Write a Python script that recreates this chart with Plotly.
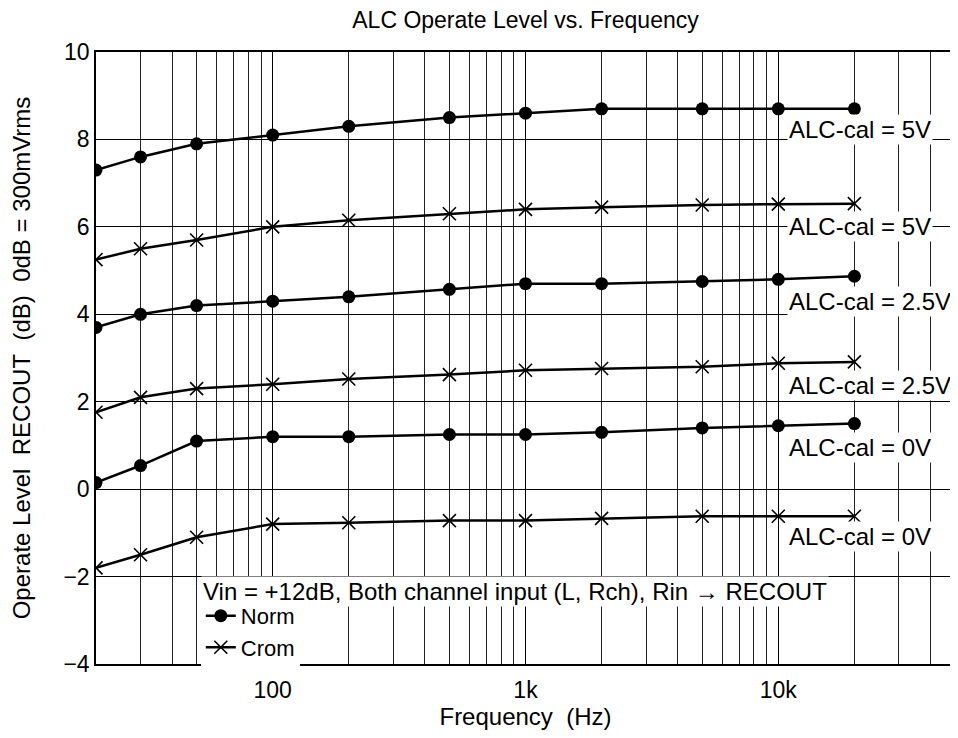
import plotly.graph_objects as go

# frequencies (Hz) where measurements were taken
freq = [20, 30, 50, 100, 200, 500, 1000, 2000, 5000, 10000, 20000]

norm_5v = [7.3, 7.6, 7.9, 8.1, 8.3, 8.5, 8.6, 8.7, 8.7, 8.7, 8.7]
crom_5v = [5.25, 5.5, 5.7, 6.0, 6.15, 6.3, 6.4, 6.45, 6.5, 6.52, 6.53]
norm_25v = [3.7, 4.0, 4.2, 4.3, 4.4, 4.57, 4.7, 4.7, 4.75, 4.8, 4.87]
crom_25v = [1.76, 2.1, 2.3, 2.4, 2.52, 2.62, 2.72, 2.76, 2.8, 2.88, 2.91]
norm_0v = [0.15, 0.54, 1.1, 1.2, 1.2, 1.25, 1.25, 1.3, 1.4, 1.45, 1.5]
crom_0v = [-1.8, -1.5, -1.1, -0.8, -0.77, -0.72, -0.72, -0.67, -0.62, -0.62, -0.62]

# curve labels and their heights (dB)
label_text = ["ALC-cal = 5V", "ALC-cal = 5V", "ALC-cal = 2.5V",
              "ALC-cal = 2.5V", "ALC-cal = 0V", "ALC-cal = 0V"]
label_y = [8.22, 6.0, 4.3, 2.38, 0.95, -1.09]

x_tickvals = [100, 1000, 10000]
x_ticktext = ["100", "1k", "10k"]
y_tickvals = [-4, -2, 0, 2, 4, 6, 8, 10]

FONT = "Liberation Sans, Arial, sans-serif"
BIG = 24

fig = go.Figure()

series = [
	(norm_5v, "norm", True),
	(crom_5v, "crom", True),
	(norm_25v, "norm", False),
	(crom_25v, "crom", False),
	(norm_0v, "norm", False),
	(crom_0v, "crom", False),
]

for vals, kind, show in series:
	if kind == "norm":
		marker = dict(symbol="circle", size=13, color="black")
		name = "Norm"
	else:
		marker = dict(symbol="x-thin", size=13, color="black",
					  line=dict(width=1.6, color="black"))
		name = "Crom"
	fig.add_trace(go.Scatter(
		x=freq, y=vals,
		mode="lines+markers",
		line=dict(color="black", width=2.5),
		marker=marker,
		name=name,
		legendgroup=kind,
		showlegend=show,
	))

for txt, yv in zip(label_text, label_y):
	fig.add_annotation(
		x=0.805, xref="paper", xanchor="left",
		y=yv, yref="y",
		text=txt, showarrow=False,
		bgcolor="white", borderpad=1,
		font=dict(size=BIG, color="black", family=FONT),
	)

# legend heading
fig.add_annotation(
	x=0.122, xref="paper", xanchor="left",
	y=-2.35, yref="y",
	text="Vin = +12dB, Both channel input (L, Rch), Rin \u2192 RECOUT",
	showarrow=False, bgcolor="white", borderpad=1,
	font=dict(size=BIG, color="black", family=FONT),
)

minor_vals = [m * 10 ** e for e in range(1, 5) for m in range(2, 10)]

fig.update_xaxes(
	type="log",
	range=[1.30103, 4.69897],
	tickvals=x_tickvals, ticktext=x_ticktext,
	showgrid=True, gridcolor="black", gridwidth=1,
	minor=dict(tickvals=minor_vals, showgrid=True, gridcolor="#222222", gridwidth=1, ticks=""),
	showline=True, linecolor="black", linewidth=1.5, mirror=True,
	ticks="", zeroline=False, ticklabelstandoff=5,
	title=dict(text="Frequency\u00a0\u00a0(Hz)", font=dict(size=BIG, family=FONT, color="black"), standoff=6),
	tickfont=dict(size=23, family=FONT, color="black"),
)
fig.update_yaxes(
	range=[-4, 10],
	tickvals=y_tickvals,
	showgrid=True, gridcolor="black", gridwidth=1,
	showline=True, linecolor="black", linewidth=1.5, mirror=True,
	ticks="", zeroline=False,
	title=dict(text="Operate Level\u00a0\u00a0RECOUT\u00a0\u00a0(dB)\u00a0\u00a00dB = 300mVrms",
			   font=dict(size=BIG, family=FONT, color="black"), standoff=26),
	tickfont=dict(size=23, family=FONT, color="black"),
)

# the page body adds an 8px margin, so the figure is a little smaller than the window
fig.update_layout(
	width=950, height=730,
	margin=dict(l=88, r=1, t=44, b=74),
	paper_bgcolor="white", plot_bgcolor="white",
	title=dict(text="ALC Operate Level vs. Frequency", xref="paper", x=0.5, xanchor="center",
			   y=1, yanchor="top", pad=dict(t=4),
			   font=dict(size=23, family=FONT, color="black")),
	showlegend=True,
	legend=dict(
		x=0.122, xanchor="left", y=0.113, yanchor="top",
		bgcolor="white", borderwidth=0,
		font=dict(size=22, family=FONT, color="black"),
		tracegroupgap=0,
	),
)

fig.write_html("out.html")
